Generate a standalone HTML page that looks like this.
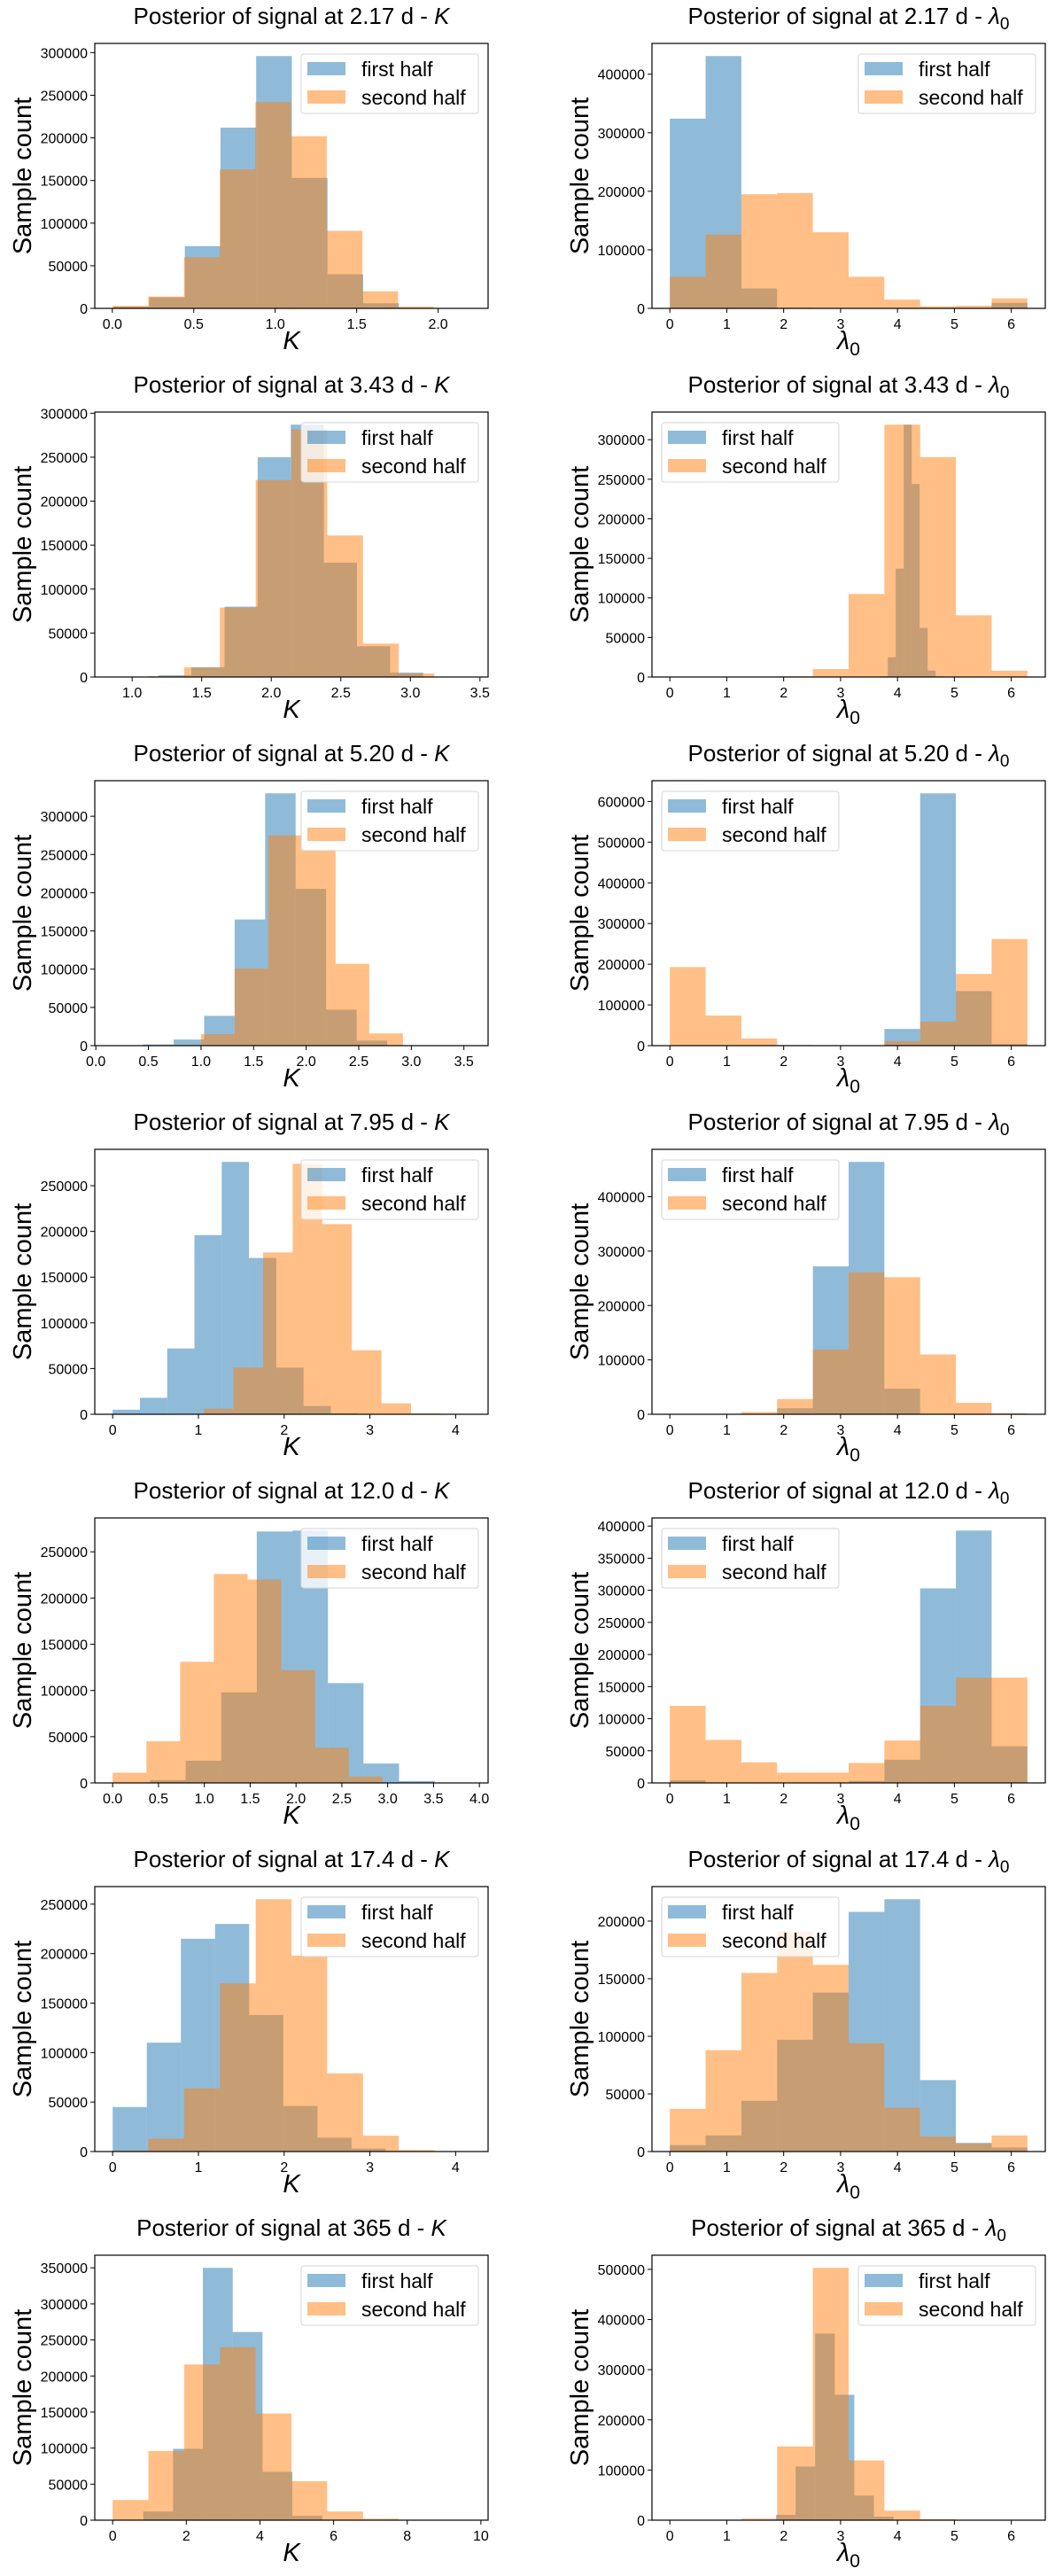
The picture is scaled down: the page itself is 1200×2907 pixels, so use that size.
<!DOCTYPE html>
<html><head><meta charset="utf-8"><style>
html,body{margin:0;padding:0;background:#fff;}
svg{display:block;font-family:"Liberation Sans","DejaVu Sans",sans-serif;}
</style></head><body>
<svg id="fig" width="1200" height="2907" viewBox="0 0 1200 2907" xmlns="http://www.w3.org/2000/svg"></svg>
<script>
const periods = ["2.17","3.43","5.20","7.95","12.0","17.4","365"];
const paramKinds = ["K","lambda"];
// per panel, order: row by row, left (K) then right (lambda0)
const blueStart = [0.007,0, 0.95,3.69, 0.16,0, 0,0, 0.02,0, 0,0, 0.02,1.866];
const blueWidth = [0.219,0.6283, 0.238,0.14, 0.29,0.6283, 0.318,0.6283, 0.388,0.6283, 0.398,0.6283, 0.81,0.344];
const orangeStart = [0.002,0, 0.86,0, 0.36,0, 0.72,0, 0,0, 0,0, 0,0];
const orangeWidth = [0.219,0.6283, 0.257,0.6283, 0.32,0.6283, 0.345,0.6283, 0.368,0.6283, 0.417,0.6283, 0.971,0.6283];
const blueCounts = [
 [2000,13000,73000,212000,296000,153000,40000,6000,500,100],
 [324000,431000,34000,1000,0,0,0,0,0,9500],
 [500,2000,11000,80000,250000,287000,130000,35000,5000,500],
 [1000,25000,137000,319000,244000,62000,8000,1000,200,100],
 [200,1500,8000,39000,165000,330000,205000,47000,6500,500],
 [0,0,0,0,0,1000,41000,620000,134000,4000],
 [5000,18000,72000,196000,276000,171000,51000,9000,1000,200],
 [0,0,1000,11000,272000,464000,47000,1000,0,0],
 [500,3000,24000,98000,272000,273000,108000,21000,2000,200],
 [4000,0,0,0,0,3000,36000,303000,393000,57000],
 [45000,110000,215000,230000,138000,46000,14000,3000,500,100],
 [5500,14000,44000,97000,138000,208000,219000,62000,7500,3500],
 [500,12000,99000,350000,261000,67000,6000,500,100,0],
 [10600,107000,372000,250000,49000,7000,500,0,0,0]
];
const orangeCounts = [
 [3000,14000,60000,163000,242000,202000,91000,20000,2000,200],
 [54000,126000,195000,197000,130000,54000,15000,3500,4500,17000],
 [500,1000,11000,79000,224000,282000,161000,38000,4000,500],
 [0,0,0,1000,10000,105000,319000,278000,78000,8000],
 [100,1000,15000,101000,275000,257000,107000,16000,300,100],
 [193000,74000,17500,1500,0,0,11000,59000,176000,262000],
 [500,6000,51000,177000,274000,208000,70000,12000,1000,200],
 [0,0,4000,28000,119000,261000,252000,110000,21000,2000],
 [11000,45000,131000,226000,220000,122000,38000,7000,500,100],
 [120000,67000,32000,16000,16000,31000,66000,120000,164000,164000],
 [1000,13000,64000,170000,255000,198000,79000,16000,1500,300],
 [37000,88000,155000,191000,162000,94000,38000,13000,7000,14000],
 [28000,96000,216000,240000,148000,54000,12000,2000,300,100],
 [0,1000,3000,147000,503000,119000,19000,2000,0,0]
];
const lamTicks = ["0","1","2","3","4","5","6"];
const xTickLabels = [
 ["0.0","0.5","1.0","1.5","2.0"], lamTicks,
 ["1.0","1.5","2.0","2.5","3.0","3.5"], lamTicks,
 ["0.0","0.5","1.0","1.5","2.0","2.5","3.0","3.5"], lamTicks,
 ["0","1","2","3","4"], lamTicks,
 ["0.0","0.5","1.0","1.5","2.0","2.5","3.0","3.5","4.0"], lamTicks,
 ["0","1","2","3","4"], lamTicks,
 ["0","2","4","6","8","10"], lamTicks
];
const yTickLabels = [
 ["0","50000","100000","150000","200000","250000","300000"], ["0","100000","200000","300000","400000"],
 ["0","50000","100000","150000","200000","250000","300000"], ["0","50000","100000","150000","200000","250000","300000"],
 ["0","50000","100000","150000","200000","250000","300000"], ["0","100000","200000","300000","400000","500000","600000"],
 ["0","50000","100000","150000","200000","250000"], ["0","100000","200000","300000","400000"],
 ["0","50000","100000","150000","200000","250000"], ["0","50000","100000","150000","200000","250000","300000","350000","400000"],
 ["0","50000","100000","150000","200000","250000"], ["0","50000","100000","150000","200000"],
 ["0","50000","100000","150000","200000","250000","300000","350000"], ["0","100000","200000","300000","400000","500000"]
];
const legendLoc = ["right","right","right","left","right","left","right","left","right","left","right","left","right","right"];

const NS="http://www.w3.org/2000/svg";
const svg=document.getElementById('fig');
function mk(tag,attrs,parent){const e=document.createElementNS(NS,tag);for(const k in attrs)e.setAttribute(k,attrs[k]);(parent||svg).appendChild(e);return e;}

const AX_W=444, AX_H=299, LEFTS=[107,736], TOP0=49, ROW=416;

for(let p=0;p<14;p++){
  const row=Math.floor(p/2), col=p%2;
  const ax=LEFTS[col], ay=TOP0+row*ROW;
  const g=mk('g',{});
  
  
  const bS=blueStart[p], bW=blueWidth[p], oS=orangeStart[p], oW=orangeWidth[p];
  const bC=blueCounts[p], oC=orangeCounts[p];
  const dmin=Math.min(bS,oS), dmax=Math.max(bS+bW*bC.length,oS+oW*oC.length);
  const m=(dmax-dmin)*0.05, xmin=dmin-m, xmax=dmax+m;
  const ymax=1.05*Math.max(...bC,...oC);
  const X=v=>ax+(v-xmin)/(xmax-xmin)*AX_W;
  const Y=v=>ay+AX_H-v/ymax*AX_H;
  // bars
  const series=[[bC,bS,bW,'#1f77b4','first-half'],[oC,oS,oW,'#ff7f0e','second-half']];
  for(const [cnt,s,w,color,nm] of series){
    cnt.forEach((c,i)=>{
      if(c<=0) return;
      const x0=X(s+i*w), x1=X(s+(i+1)*w);
      const r=mk('rect',{x:x0,y:Y(c),width:x1-x0,height:Y(0)-Y(c),fill:color,'fill-opacity':0.5},g);
      
      
    });
  }
  // frame
  const fr=mk('rect',{x:ax,y:ay,width:AX_W,height:AX_H,fill:'none',stroke:'#000','stroke-width':1.2},g);
  
  
  // x ticks
  xTickLabels[p].forEach(t=>{
    const x=X(parseFloat(t));
    mk('line',{x1:x,x2:x,y1:ay+AX_H,y2:ay+AX_H+5,stroke:'#000','stroke-width':1},g);
    const tx=mk('text',{x:x,y:ay+AX_H+23,'font-size':16,'text-anchor':'middle'},g);
    tx.textContent=t;
    
    
  });
  // y ticks
  yTickLabels[p].forEach(t=>{
    const y=Y(parseFloat(t));
    mk('line',{x1:ax-5,x2:ax,y1:y,y2:y,stroke:'#000','stroke-width':1},g);
    const tx=mk('text',{x:ax-8,y:y+6,'font-size':16,'text-anchor':'end'},g);
    tx.textContent=t;
    
    
  });
  // title
  const ti=mk('text',{x:ax+AX_W/2,y:ay-22,'font-size':26,'text-anchor':'middle'},g);
  
  
  ti.appendChild(document.createTextNode('Posterior of signal at '+periods[row]+' d - '));
  if(col===0){const s=mk('tspan',{'font-style':'italic'},ti);s.textContent='K';}
  else{const s=mk('tspan',{'font-style':'italic'},ti);s.textContent='λ';const s2=mk('tspan',{dy:6,'font-size':19},ti);s2.textContent='0';}
  // y label
  const yl=mk('text',{x:0,y:0,'font-size':29,'text-anchor':'middle',transform:'translate('+(ax-72)+','+(ay+AX_H/2)+') rotate(-90)'},g);
  yl.textContent='Sample count';
  
  
  // x label
  const xl=mk('text',{x:ax+AX_W/2,y:ay+AX_H+46,'font-size':29,'text-anchor':'middle','font-style':'italic'},g);
  
  
  if(col===0){xl.textContent='K';}
  else{xl.appendChild(document.createTextNode('λ'));const s2=mk('tspan',{dy:7,'font-size':21,'font-style':'normal'},xl);s2.textContent='0';}
  // legend
  const lw=200, lh=67;
  const lx= legendLoc[p]==='right' ? ax+AX_W-11-lw : ax+11;
  const ly= ay+12;
  const lg=mk('g',{},g);
  
  
  mk('rect',{x:lx,y:ly,width:lw,height:lh,rx:3,fill:'#fff','fill-opacity':0.8,stroke:'#d6d6d6','stroke-width':1},lg);
  [['first half','#1f77b4'],['second half','#ff7f0e']].forEach((e,i)=>{
    const en=mk('g',{},lg);
    
    
    mk('rect',{x:lx+7,y:ly+9+i*32,width:43,height:15,fill:e[1],'fill-opacity':0.5},en);
    const t=mk('text',{x:lx+68,y:ly+25+i*32,'font-size':23},en);
    t.textContent=e[0];
  });
}
</script>
</body></html>
